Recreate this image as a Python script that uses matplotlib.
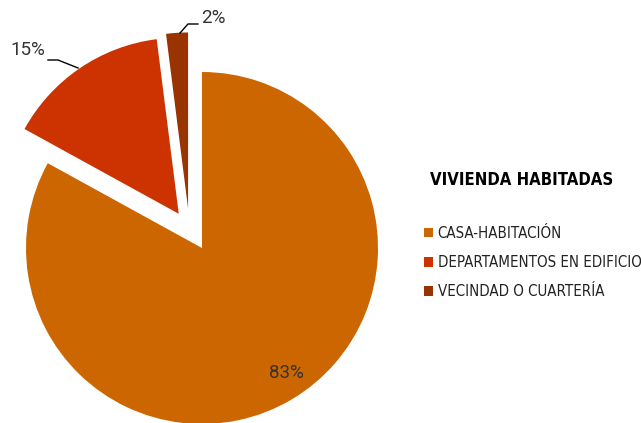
import matplotlib.pyplot as plt

# data
categories = ["CASA-HABITACIÓN", "DEPARTAMENTOS EN EDIFICIO", "VECINDAD O CUARTERÍA"]
values = [83, 15, 2]
colors = ["#CC6600", "#CC3300", "#993300"]
explode = [0, 0.235, 0.225]
legend_title = "VIVIENDA HABITADAS"

W, H = 641, 423
cx, cy, R = 202, 248, 176   # pie centre / radius in pixels


def px(x, y):
    # pixel (from top-left) -> data units, 1 unit = pie radius
    return (x - cx) / R, (cy - y) / R


fig = plt.figure(figsize=(W / 100, H / 100), dpi=100)
ax = fig.add_axes([0, 0, 1, 1])

wedges, _ = ax.pie(values, colors=colors, explode=explode, startangle=90,
                   counterclock=False, radius=1, center=(0, 0))
# the small slice sits a bit further left in the original
c = wedges[2].center
wedges[2].set_center((c[0] - 0.065, c[1]))

ax.set_aspect("auto")
ax.set_xlim(-cx / R, (W - cx) / R)
ax.set_ylim(-(H - cy) / R, cy / R)
ax.axis("off")

pct_font = dict(fontsize=13.5, color="#333333", family=["Roboto", "DejaVu Sans"])
for v, (x, y) in zip(values, [(286, 373), (28, 50), (213, 18)]):
    ax.text(*px(x, y), f"{v}%", ha="center", va="center", **pct_font)

# leader lines
for pts in [[(48, 60), (58, 60), (78, 68)], [(180, 33), (188, 24), (198, 24)]]:
    xs, ys = zip(*[px(*p) for p in pts])
    ax.plot(xs, ys, color="black", lw=1)

fnt = ["DejaVu Sans"]
fig.text(430 / W, 1 - 180 / H, legend_title, ha="left", va="center",
         fontsize=12, fontweight="bold", family=fnt, fontstretch="condensed",
         color="black")

leg = fig.legend(wedges, categories, loc="upper left",
                 bbox_to_anchor=(424 / W, 1 - 226 / H), frameon=False,
                 prop={"family": fnt, "size": 10.8, "stretch": "condensed"},
                 handlelength=0.6, handleheight=0.6, handletextpad=0.3,
                 labelspacing=0.95, borderpad=0, borderaxespad=0)
for t in leg.get_texts():
    t.set_color("#222222")

fig.savefig("out.png", dpi=100)
